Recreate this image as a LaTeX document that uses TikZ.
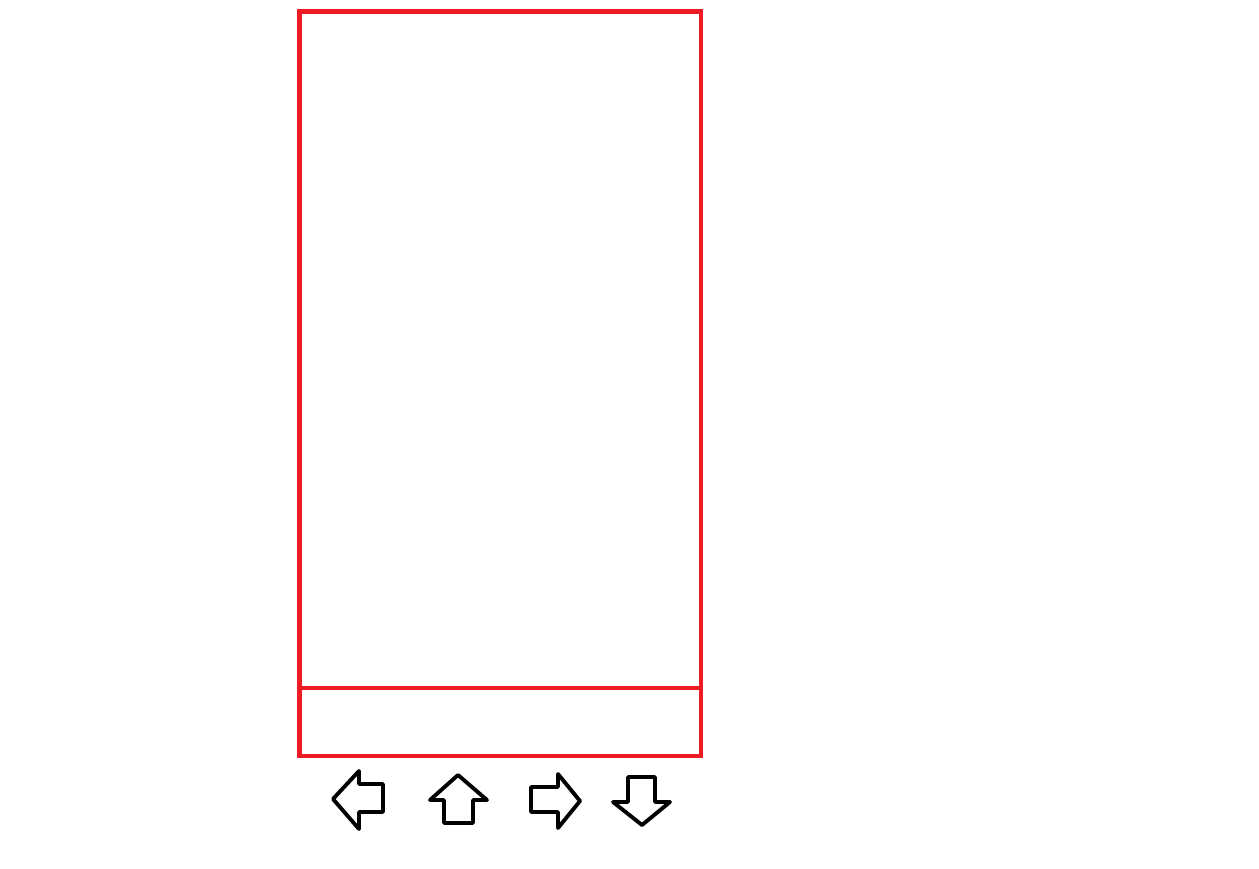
\documentclass[tikz,border=0pt]{standalone}
\usepackage{xcolor}
\usepackage{tikz}
\definecolor{paintred}{RGB}{237,28,36}

\begin{document}
\begin{tikzpicture}[x=0.02cm, y=-0.02cm,
    frame/.style={paintred, line width=2.55pt},
    arrowkey/.style={black, line width=2.2pt, line join=round}]
    \useasboundingbox (0,0) rectangle (1259,869);
    % screen and bottom bar
    \draw[frame] (299.5,11.5) rectangle (701,756);
    \draw[frame] (299.5,688) -- (701,688);
    % left
    \draw[arrowkey] (333,799) -- (359,771) -- (359,784) -- (383,784)
        -- (383,812) -- (359,812) -- (359,829) -- cycle;
    % up
    \draw[arrowkey] (458,775) -- (487,800) -- (473,800) -- (473,823)
        -- (444,823) -- (444,800) -- (430,800) -- cycle;
    % right
    \draw[arrowkey] (580,801) -- (558,828) -- (558,812) -- (531,812)
        -- (531,787) -- (558,787) -- (558,774) -- cycle;
    % down
    \draw[arrowkey] (642,825) -- (613,802) -- (628,802) -- (628,777)
        -- (655,777) -- (655,802) -- (670,802) -- cycle;
\end{tikzpicture}
\end{document}
